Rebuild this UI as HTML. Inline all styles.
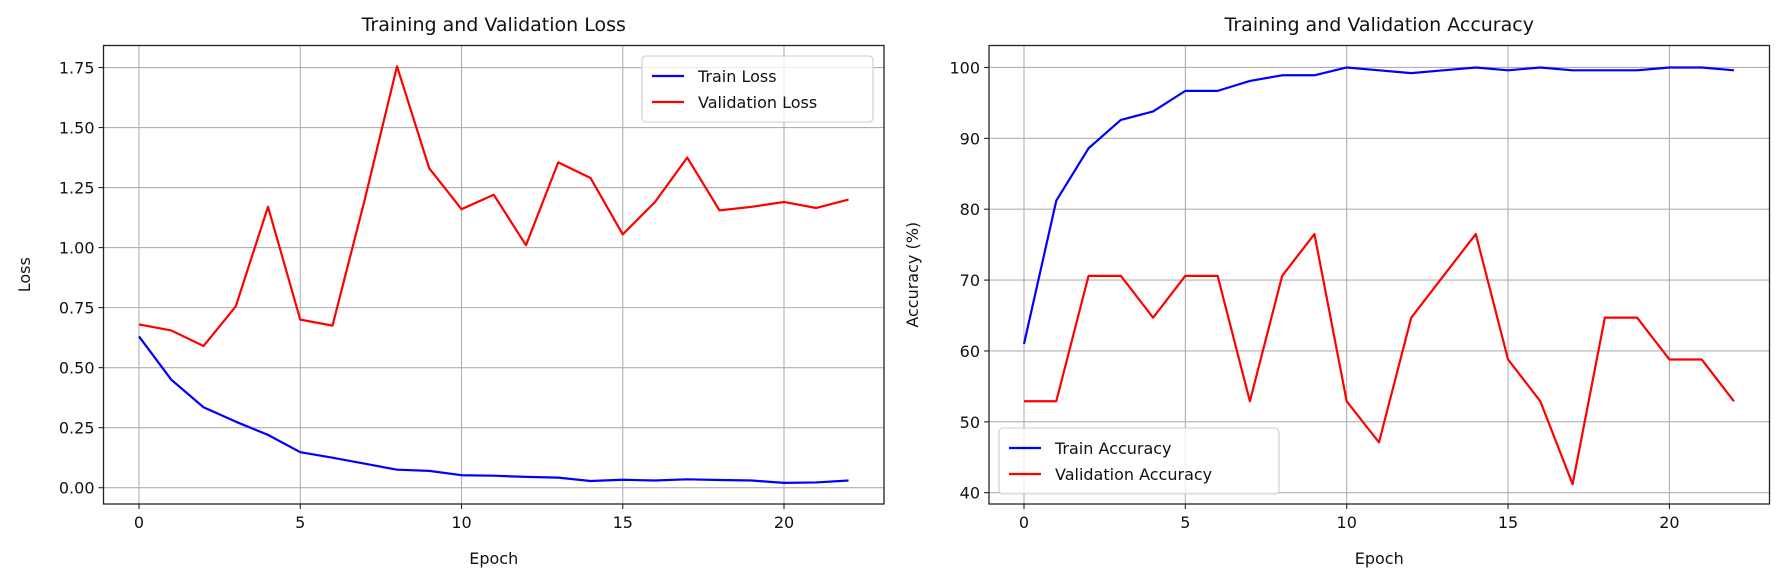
<!DOCTYPE html>
<html><head><meta charset="utf-8"><style>
body{margin:0;background:#fff;}
svg{display:block;font-family:"DejaVu Sans","Liberation Sans",sans-serif;}
</style></head><body>
<svg id="fig" width="1784" height="582"></svg>
<script>
const epochs=[0,1,2,3,4,5,6,7,8,9,10,11,12,13,14,15,16,17,18,19,20,21,22];
const trainLoss=[0.63,0.45,0.335,0.275,0.22,0.148,0.125,0.1,0.075,0.07,0.052,0.05,0.045,0.042,0.028,0.033,0.03,0.035,0.032,0.03,0.02,0.022,0.03];
const valLoss=[0.68,0.655,0.59,0.755,1.17,0.70,0.675,1.20,1.755,1.33,1.16,1.22,1.01,1.355,1.29,1.055,1.19,1.375,1.155,1.17,1.19,1.165,1.2];
const trainAcc=[61,81.2,88.6,92.6,93.8,96.7,96.7,98.1,98.9,98.9,100,99.6,99.2,99.6,100,99.6,100,99.6,99.6,99.6,100,100,99.6];
const valAcc=[52.9,52.9,70.6,70.6,64.7,70.6,70.6,52.9,70.6,76.5,52.9,47.1,64.7,70.6,76.5,58.8,52.9,41.2,64.7,64.7,58.8,58.8,52.9];
const xTicks=[0,5,10,15,20];
const lossTicks=[0,0.25,0.5,0.75,1.0,1.25,1.5,1.75];
const accTicks=[40,50,60,70,80,90,100];
const NS="http://www.w3.org/2000/svg";
const svg=document.getElementById('fig');
function mk(t,a,p){const e=document.createElementNS(NS,t);for(const k in a)e.setAttribute(k,a[k]);(p||svg).appendChild(e);return e;}
function panel(o){
  const g=mk('g',{});
  
  
  const sx=v=>o.x0px+(v-0)*o.xs, sy=v=>o.y0px-(v-o.y0v)*o.ys;
  // grid
  xTicks.forEach(t=>{const l=mk('line',{x1:sx(t),x2:sx(t),y1:o.top,y2:o.bot,stroke:'#b0b0b0','stroke-width':1.1},g);
    });
  o.yTicks.forEach(t=>{const l=mk('line',{x1:o.left,x2:o.right,y1:sy(t),y2:sy(t),stroke:'#b0b0b0','stroke-width':1.1},g);
    });
  // series
  o.series.forEach(s=>{const p=mk('polyline',{points:epochs.map((e,i)=>sx(e)+','+sy(s.d[i])).join(' '),fill:'none',stroke:s.c,'stroke-width':2.2,'stroke-linejoin':'round'},g);
    });
  const fr=mk('rect',{x:o.left,y:o.top,width:o.right-o.left,height:o.bot-o.top,fill:'none',stroke:'#222','stroke-width':1.3},g);
  
  xTicks.forEach(t=>{mk('line',{x1:sx(t),x2:sx(t),y1:o.bot,y2:o.bot+5,stroke:'#222','stroke-width':1.1},g);
    const tx=mk('text',{x:sx(t),y:o.bot+24,'text-anchor':'middle','font-size':16,fill:'#111'},g);tx.textContent=t;
    });
  o.yTicks.forEach(t=>{mk('line',{x1:o.left-5,x2:o.left,y1:sy(t),y2:sy(t),stroke:'#222','stroke-width':1.1},g);
    const tx=mk('text',{x:o.left-9,y:sy(t)+6,'text-anchor':'end','font-size':16,fill:'#111'},g);tx.textContent=o.fmt(t);
    });
  const ti=mk('text',{x:(o.left+o.right)/2,y:31,'text-anchor':'middle','font-size':19,fill:'#111'},g);ti.textContent=o.title;
  
  const xl=mk('text',{x:(o.left+o.right)/2,y:564,'text-anchor':'middle','font-size':16,fill:'#111'},g);xl.textContent='Epoch';
  
  const cy=(o.top+o.bot)/2;
  const yl=mk('text',{x:o.ylx,y:cy,'text-anchor':'middle','font-size':16,fill:'#111',transform:`rotate(-90 ${o.ylx} ${cy})`},g);yl.textContent=o.ylab;
  
  // legend
  const L=o.leg;
  const lb=mk('rect',{x:L.x,y:L.y,width:L.w,height:66,rx:4,fill:'#fff','fill-opacity':0.8,stroke:'#ccc','stroke-width':1.1},g);
  
  o.series.forEach((s,i)=>{const yy=L.y+20+i*26;
    mk('line',{x1:L.x+10,x2:L.x+42,y1:yy,y2:yy,stroke:s.c,'stroke-width':2.2},g);
    const t=mk('text',{x:L.x+56,y:yy+6,'font-size':16,fill:'#111'},g);t.textContent=s.label;
    });
}
panel({name:'loss-chart',title:'Training and Validation Loss',ylab:'Loss',left:103.5,right:884,top:45.5,bot:504,
  x0px:139,xs:32.25,y0px:487.7,y0v:0,ys:240.1,yTicks:lossTicks,fmt:v=>v.toFixed(2),ylx:30,
  series:[{d:trainLoss,c:'#0000ff',n:'train-loss-line',label:'Train Loss'},{d:valLoss,c:'#ff0000',n:'validation-loss-line',label:'Validation Loss'}],
  leg:{x:642,y:56,w:231}});
panel({name:'accuracy-chart',title:'Training and Validation Accuracy',ylab:'Accuracy (%)',left:989,right:1769.5,top:45.5,bot:504,
  x0px:1024,xs:32.27,y0px:492.7,y0v:40,ys:7.087,yTicks:accTicks,fmt:v=>v,ylx:918,
  series:[{d:trainAcc,c:'#0000ff',n:'train-accuracy-line',label:'Train Accuracy'},{d:valAcc,c:'#ff0000',n:'validation-accuracy-line',label:'Validation Accuracy'}],
  leg:{x:999,y:428,w:280}});
</script>
</body></html>
